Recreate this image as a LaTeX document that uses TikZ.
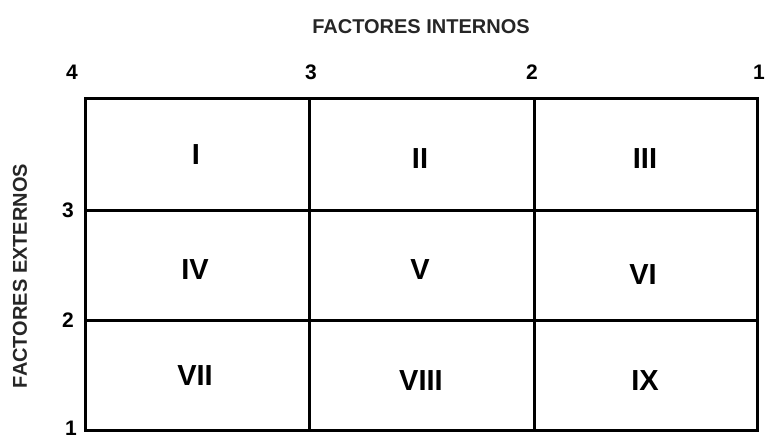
\documentclass[tikz,border=0pt]{standalone}
\usepackage{fontspec}
\setmainfont{Liberation Sans}
\begin{document}
\begin{tikzpicture}[x=1pt, y=-1pt,
cell/.style={font=\fontsize{29}{29}\selectfont\bfseries},
tick/.style={font=\fontsize{21}{21}\selectfont\bfseries},
axis/.style={font=\fontsize{20}{20}\selectfont\bfseries, text=black!85},
grid/.style={line width=3pt}
]
\useasboundingbox (0,0) rectangle (765,437);
%Titles
\node[axis]            (int)   at (421,27)    {FACTORES INTERNOS};
\node[axis, rotate=90] (ext)   at (20,276)    {FACTORES EXTERNOS};
%Ticks
\node[tick]      (t4)    at (72,72)     {4};
\node[tick]      (t3)    at (311,72)    {3};
\node[tick]      (t2)    at (532,72)    {2};
\node[tick]      (t1)    at (759,72)    {1};
\node[tick]      (e3)    at (68,210)    {3};
\node[tick]      (e2)    at (68,320)    {2};
\node[tick]      (e1)    at (71,428)    {1};
%Cells
\node[cell]      (c1)    at (196,155)   {I};
\node[cell]      (c2)    at (420,159)   {II};
\node[cell]      (c3)    at (645,159)   {III};
\node[cell]      (c4)    at (195,270)   {IV};
\node[cell]      (c5)    at (420,270)   {V};
\node[cell]      (c6)    at (643,275)   {VI};
\node[cell]      (c7)    at (195,376)   {VII};
\node[cell]      (c8)    at (421,381)   {VIII};
\node[cell]      (c9)    at (645,381)   {IX};
%Lines
\draw[grid] (85,98) rectangle (757,430);
\draw[grid] (309,98) -- (309,430);
\draw[grid] (534,98) -- (534,430);
\draw[grid] (85,210) -- (757,210);
\draw[grid] (85,320) -- (757,320);
\end{tikzpicture}
\end{document}
